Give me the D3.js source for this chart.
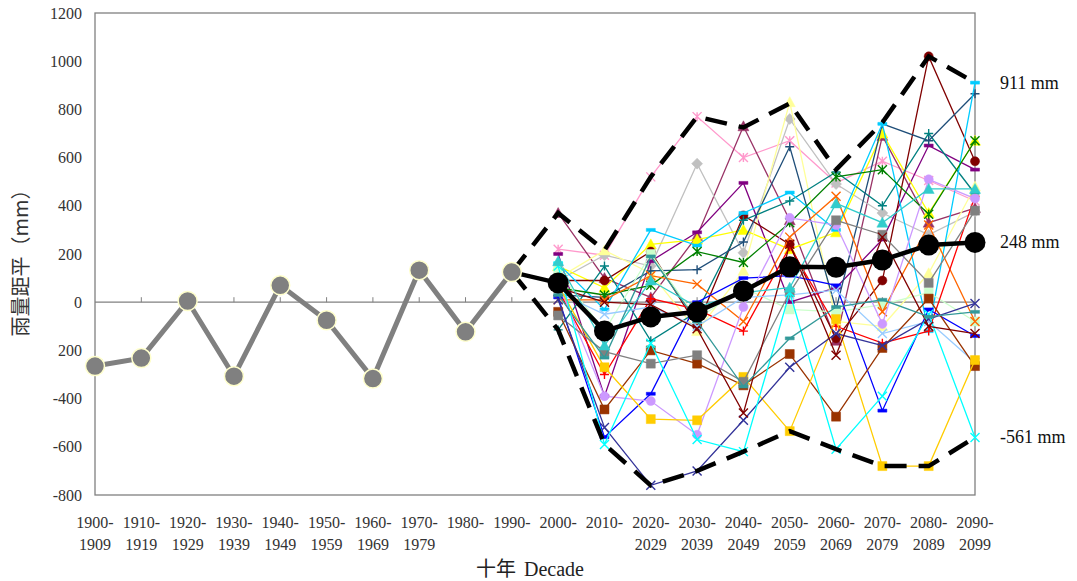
<!DOCTYPE html>
<html>
<head>
<meta charset="utf-8">
<script src="https://cdn.jsdelivr.net/npm/d3@7"></script>
<style>
  body { margin: 0; background: #fff; }
  svg { display: block; }
</style>
</head>
<body>
<svg id="chart" width="1077" height="581"></svg>
<script>
// decades on the x axis
const decades = d3.range(1900, 2100, 10);
const futureDecades = d3.range(2000, 2100, 10);
const histDecades = d3.range(1900, 2000, 10);

// observed anomalies 1900-1999
const histValues = [-265, -232, 5, -307, 70, -75, -317, 133, -123, 125];

// ensemble mean 2000-2099 (starts from 1990 point)
const meanValues = [80, -119, -61, -40, 46, 147, 145, 175, 237, 248];

// envelope of models
const maxValues = [370, 215, 520, 770, 725, 825, 550, 745, 1020, 911];
const minValues = [-115, -590, -760, -700, -620, -535, -610, -680, -680, -561];

// y tick labels as shown
const yTicks = [1200, 1000, 800, 600, 400, 200, 0, -200, -400, -600, -800];
const yTickLabels = ['1200', '1000', '800', '600', '400', '200', '0', '200', '-400', '-600', '-800'];

// model runs (color, marker, values 2000..2090)
const modelColors = ['#ff99cc', '#993366', '#c0c0c0', '#800080', '#ffff00', '#ffff99', '#800000', '#008080',
  '#1f4e79', '#00ccff', '#008000', '#ccffcc', '#ff6600', '#ff0000', '#0000ff', '#cc99ff', '#99ccff',
  '#993300', '#ffcc00', '#808080', '#333399', '#00ffff', '#800000', '#339999', '#33cccc'];
const modelMarkers = ['asterisk', 'triangle', 'diamond', 'dash', 'triangle', 'triangle', 'circle', 'plus',
  'plus', 'dash', 'asterisk', 'square', 'x', 'plus', 'dash', 'circle', 'x',
  'square', 'square', 'square', 'x', 'x', 'x', 'dash', 'triangle'];
const modelValues = [
  [220, 195, 520, 770, 600, 670, 495, 585, 505, 420],
  [370, 100, 20, 275, 730, 340, -160, 690, 330, 390],
  [90, 195, 150, 575, 205, 760, 490, 370, 280, 375],
  [200, -390, 170, 290, 495, 0, 60, 260, 650, 550],
  [150, 60, 240, 260, 300, 220, 290, 700, 370, 670],
  [100, 215, 120, -120, 130, 830, -80, -100, 120, 480],
  [90, 90, 210, -100, 360, 240, -150, 90, 1020, 585],
  [-115, 150, -160, -40, 340, 420, 540, 400, 700, 450],
  [30, 20, 130, 135, 250, 645, -30, 740, 670, 865],
  [160, -30, 300, 235, 370, 455, 300, 740, -120, 911],
  [60, 30, 70, 210, 165, 330, 520, 550, 365, 670],
  [130, -120, 200, -70, 60, -30, -40, -10, 40, -80],
  [10, 10, 110, 75, -80, 270, 440, -40, 320, -80],
  [50, -300, 15, -30, -120, 230, -100, -170, -120, 440],
  [20, -560, -380, 0, 100, 110, 70, -450, -30, -140],
  [80, -390, -410, -550, -20, 350, 320, -90, 510, 430],
  [40, -50, -20, -100, 20, 30, 50, -130, -80, -250],
  [-40, -445, -200, -255, -345, -215, -475, -190, 15, -265],
  [70, -270, -485, -490, -310, -535, -70, -680, -680, -240],
  [-55, -205, -255, -220, -330, 40, 340, 280, 80, 380],
  [10, -520, -760, -700, -490, -270, -130, -180, -70, -5],
  [150, -590, -170, -570, -620, 40, -610, -390, -50, -561],
  [60, 0, -10, -110, -460, 240, -220, 270, -100, -130],
  [30, -230, 190, -80, -350, -150, -20, 10, -60, -40],
  [170, -180, 90, -20, 40, 60, 410, 330, 470, 470]
];

const annotations = [
  { value: 911, text: '911 mm' },
  { value: 248, text: '248 mm' },
  { value: -561, text: '-561 mm' }
];

const svg = d3.select('#chart');
const plotLeft = 95, plotRight = 975, plotTop = 13, plotBottom = 495;

const x = d3.scalePoint().domain(decades).range([plotLeft, plotRight]);
const y = d3.scaleLinear().domain([-800, 1200]).range([plotBottom, plotTop]);

const serif = '"Liberation Serif", "DejaVu Serif", serif';
const cjk = '"Noto Sans CJK TC", "Noto Sans CJK SC", sans-serif';

// plot frame
svg.append('rect')
  .attr('x', plotLeft).attr('y', plotTop)
  .attr('width', plotRight - plotLeft).attr('height', plotBottom - plotTop)
  .attr('fill', 'none').attr('stroke', '#808080').attr('stroke-width', 1.3);

// zero line with small ticks
svg.append('line')
  .attr('x1', plotLeft).attr('x2', plotRight)
  .attr('y1', y(0)).attr('y2', y(0))
  .attr('stroke', '#808080').attr('stroke-width', 1.3);
svg.append('g').selectAll('line')
  .data(decades.slice(1, -1))
  .join('line')
  .attr('x1', d => x(d)).attr('x2', d => x(d))
  .attr('y1', y(0)).attr('y2', y(0) - 5)
  .attr('stroke', '#808080').attr('stroke-width', 1);

// y axis labels
const yAxis = d3.axisLeft(y)
  .tickValues(yTicks)
  .tickSize(0)
  .tickPadding(13)
  .tickFormat((d, i) => yTickLabels[i]);
const gy = svg.append('g').attr('transform', `translate(${plotLeft},0)`).call(yAxis);
gy.select('.domain').remove();
gy.selectAll('text')
  .attr('font-family', serif).attr('font-size', 16).attr('fill', '#333');

// x tick labels, two lines
const xl = svg.append('g').selectAll('text')
  .data(decades)
  .join('text')
  .attr('x', d => x(d))
  .attr('y', 528)
  .attr('text-anchor', 'middle')
  .attr('font-family', serif).attr('font-size', 16).attr('fill', '#333');
xl.append('tspan').attr('x', d => x(d)).text(d => d + '-');
xl.append('tspan').attr('x', d => x(d)).attr('dy', 22).text(d => d + 9);

// markers
function markerPath(type, s) {
  const h = s / 2;
  switch (type) {
    case 'x': return `M${-h},${-h}L${h},${h}M${-h},${h}L${h},${-h}`;
    case 'plus': return `M${-h},0L${h},0M0,${-h}L0,${h}`;
    case 'asterisk': return `M${-h},${-h}L${h},${h}M${-h},${h}L${h},${-h}M0,${-h}L0,${h}`;
    case 'dash': return `M${-h},${-1.5}L${h},${-1.5}L${h},1.5L${-h},1.5Z`;
    case 'triangle': return `M0,${-h - 1}L${h + 1},${h}L${-h - 1},${h}Z`;
    case 'diamond': return `M0,${-h - 1}L${h + 1},0L0,${h + 1}L${-h - 1},0Z`;
    case 'square': return `M${-h},${-h}L${h},${-h}L${h},${h}L${-h},${h}Z`;
    default: return d3.symbol(d3.symbolCircle, s * s * 0.8)();
  }
}
const strokeOnly = new Set(['x', 'plus', 'asterisk']);

const line = d3.line().x(d => x(d[0])).y(d => y(d[1]));

const models = svg.append('g');
modelValues.forEach((vals, i) => {
  const pts = futureDecades.map((d, j) => [d, vals[j]]);
  const c = modelColors[i];
  models.append('path')
    .attr('d', line(pts))
    .attr('fill', 'none').attr('stroke', c).attr('stroke-width', 1.3);
  models.append('g').selectAll('path')
    .data(pts)
    .join('path')
    .attr('transform', d => `translate(${x(d[0])},${y(d[1])})`)
    .attr('d', markerPath(modelMarkers[i], 9))
    .attr('fill', strokeOnly.has(modelMarkers[i]) ? 'none' : c)
    .attr('stroke', c)
    .attr('stroke-width', strokeOnly.has(modelMarkers[i]) ? 1.4 : 0.5);
});

// envelope dashed lines, starting from the 1990 point
const lastHist = [1990, histValues[histValues.length - 1]];
[maxValues, minValues].forEach(vals => {
  svg.append('path')
    .attr('d', line([lastHist].concat(futureDecades.map((d, j) => [d, vals[j]]))))
    .attr('fill', 'none').attr('stroke', '#000')
    .attr('stroke-width', 4.5).attr('stroke-dasharray', '22,12');
});

// ensemble mean
const meanPts = [lastHist].concat(futureDecades.map((d, j) => [d, meanValues[j]]));
svg.append('path')
  .attr('d', line(meanPts))
  .attr('fill', 'none').attr('stroke', '#000').attr('stroke-width', 4.5);
svg.append('g').selectAll('circle')
  .data(meanPts.slice(1))
  .join('circle')
  .attr('cx', d => x(d[0])).attr('cy', d => y(d[1]))
  .attr('r', 10.5).attr('fill', '#000');

// observed series
const histPts = histDecades.map((d, j) => [d, histValues[j]]);
svg.append('path')
  .attr('d', line(histPts))
  .attr('fill', 'none').attr('stroke', '#808080').attr('stroke-width', 5);
svg.append('g').selectAll('circle')
  .data(histPts)
  .join('circle')
  .attr('cx', d => x(d[0])).attr('cy', d => y(d[1]))
  .attr('r', 9.5).attr('fill', '#808080')
  .attr('stroke', '#ffffcc').attr('stroke-width', 1.5);

// right annotations
svg.append('g').selectAll('text')
  .data(annotations)
  .join('text')
  .attr('x', 1000)
  .attr('y', d => y(d.value) + 6)
  .attr('font-family', serif).attr('font-size', 18).attr('fill', '#111')
  .text(d => d.text);

// x axis title (its white box hides part of the labels)
svg.append('rect')
  .attr('x', 443).attr('y', 538).attr('width', 183).attr('height', 43)
  .attr('fill', '#fff');
const xt = svg.append('text')
  .attr('x', 530).attr('y', 576)
  .attr('text-anchor', 'middle')
  .attr('font-size', 20).attr('fill', '#222');
xt.append('tspan').attr('font-family', cjk).text('十年');
xt.append('tspan').attr('font-family', serif).attr('dx', 8).text('Decade');

// y axis title
svg.append('text')
  .attr('transform', 'translate(28,258) rotate(-90)')
  .attr('text-anchor', 'middle')
  .attr('font-family', cjk).attr('font-size', 20).attr('fill', '#333')
  .text('雨量距平（mm）');
</script>
</body>
</html>
